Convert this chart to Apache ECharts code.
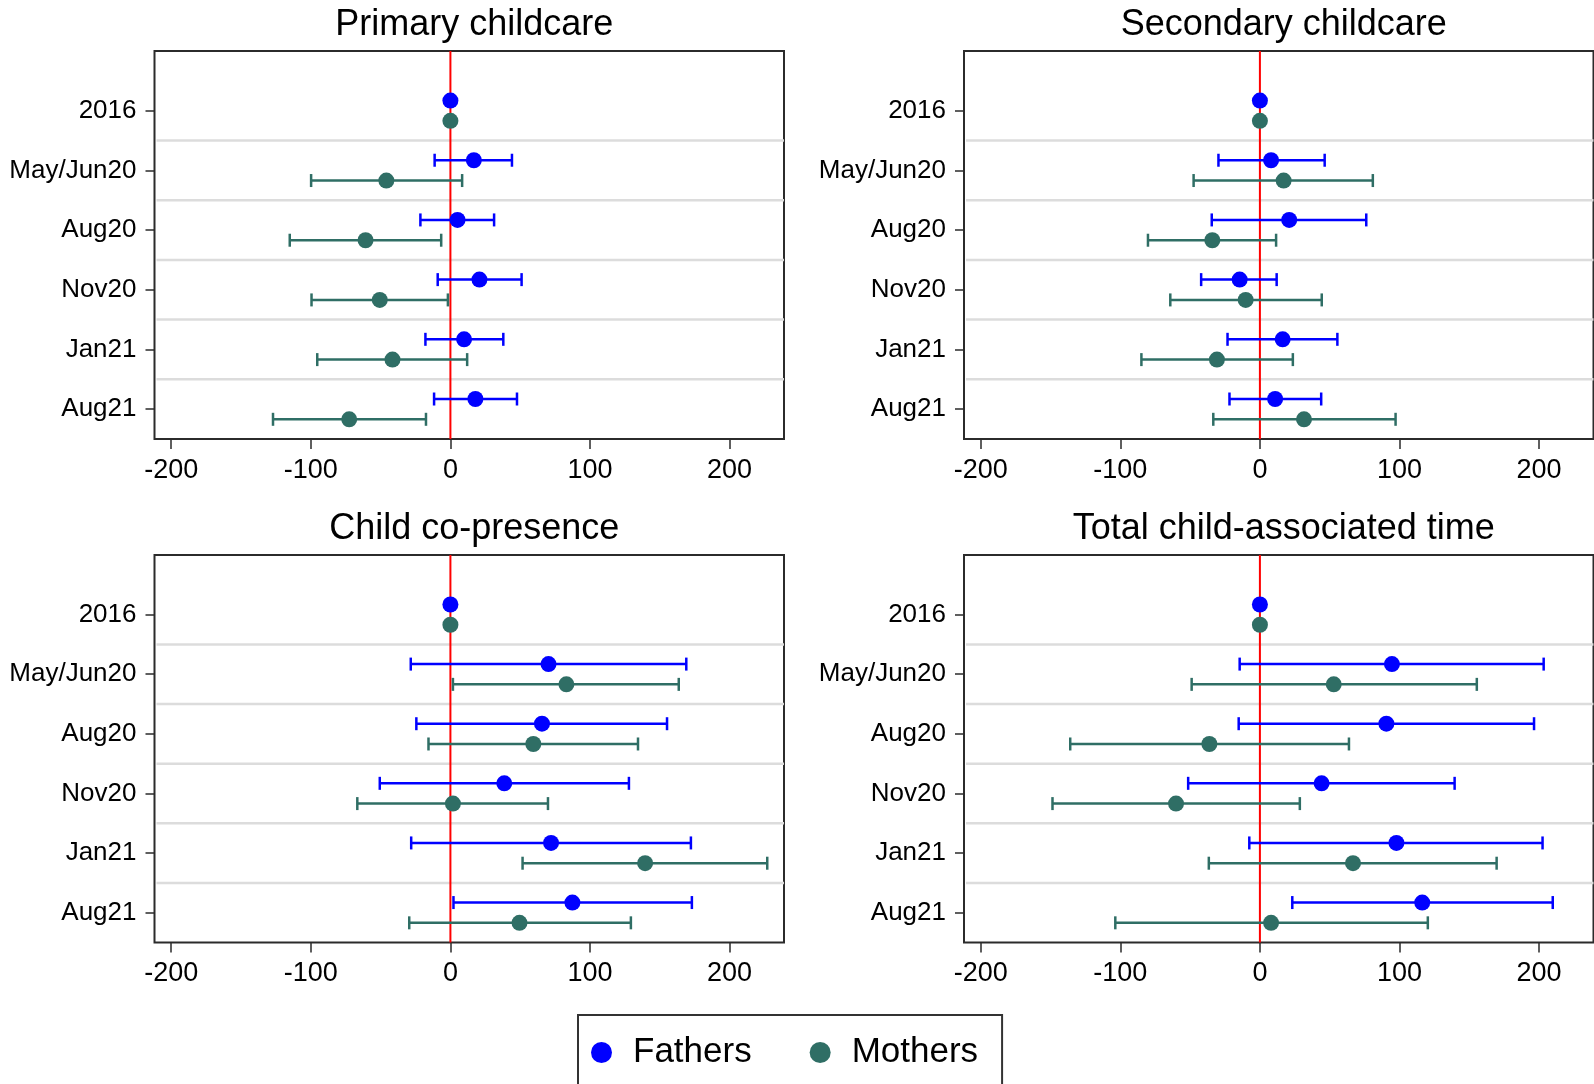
<!DOCTYPE html>
<html>
<head>
<meta charset="utf-8">
<title>Childcare time by wave</title>
<script src="https://cdn.jsdelivr.net/npm/echarts@6/dist/echarts.min.js"></script>
<style>
  html, body { margin: 0; padding: 0; background: #fff; }
  #main { width: 1594px; height: 1084px; }
</style>
</head>
<body>
<div id="main"></div>
<script>
// waves on the y axis, 2016 is the reference year
var categories = ['2016', 'May/Jun20', 'Aug20', 'Nov20', 'Jan21', 'Aug21'];
var xTicks = [-200, -100, 0, 100, 200];
var titles = ['Primary childcare', 'Secondary childcare', 'Child co-presence', 'Total child-associated time'];

// Primary childcare
var pcF   = [0, 16.8, 5.1, 20.8, 9.8, 17.9];
var pcFLo = [null, -11.3, -21.5, -9.1, -17.9, -11.7];
var pcFHi = [null, 44.1, 31.3, 51.0, 37.9, 47.7];
var pcM   = [0, -45.9, -60.8, -50.6, -41.5, -72.5];
var pcMLo = [null, -99.8, -115.1, -99.5, -95.4, -127.1];
var pcMHi = [null, 8.4, -6.6, -1.8, 12.0, -17.5];

// Secondary childcare
var scF   = [0, 8.0, 21.0, -14.5, 16.3, 10.9];
var scFLo = [null, -29.7, -34.5, -42.1, -23.2, -21.8];
var scFHi = [null, 46.4, 76.2, 12.0, 55.5, 43.9];
var scM   = [0, 17.0, -34.1, -10.2, -30.8, 31.6];
var scMLo = [null, -47.5, -80.2, -64.2, -84.9, -33.4];
var scMHi = [null, 80.9, 11.6, 44.3, 23.6, 97.2];

// Child co-presence
var cpF   = [0, 70.3, 65.6, 38.6, 72.1, 87.4];
var cpFLo = [null, -28.4, -24.4, -50.6, -28.1, 2.2];
var cpFHi = [null, 169.0, 155.2, 127.9, 172.3, 173.0];
var cpM   = [0, 83.1, 59.4, 1.8, 139.5, 49.5];
var cpMLo = [null, 1.8, -15.7, -66.7, 51.7, -29.5];
var cpMHi = [null, 163.6, 134.4, 69.9, 227.0, 129.3];

// Total child-associated time
var tcF   = [0, 94.6, 90.6, 44.2, 97.8, 116.3];
var tcFLo = [null, -14.5, -15.2, -51.4, -7.6, 23.2];
var tcFHi = [null, 203.3, 196.4, 139.5, 202.5, 209.8];
var tcM   = [0, 52.9, -36.2, -60.1, 66.7, 8.0];
var tcMLo = [null, -48.9, -135.9, -148.6, -36.6, -103.6];
var tcMHi = [null, 155.4, 63.8, 28.6, 169.6, 120.3];

var panels = [
  { f: pcF, fLo: pcFLo, fHi: pcFHi, m: pcM, mLo: pcMLo, mHi: pcMHi },
  { f: scF, fLo: scFLo, fHi: scFHi, m: scM, mLo: scMLo, mHi: scMHi },
  { f: cpF, fLo: cpFLo, fHi: cpFHi, m: cpM, mLo: cpMLo, mHi: cpMHi },
  { f: tcF, fLo: tcFLo, fHi: tcFHi, m: tcM, mLo: tcMLo, mHi: tcMHi }
];

var BLUE = '#0000ff';
var TEAL = '#2f6e65';
var FONT = '"Liberation Sans", Arial, Helvetica, sans-serif';
var OFF = 0.17; // fathers sit above the wave tick, mothers below

var gridPos = [
  { left: 154.5, top: 51, width: 629.5, height: 388 },
  { left: 964, top: 51, width: 629.5, height: 388 },
  { left: 154.5, top: 555, width: 629.5, height: 387.5 },
  { left: 964, top: 555, width: 629.5, height: 387.5 }
];
var titleTop = [2, 2, 506, 506];

function points(vals, off) {
  return vals.map(function (v, i) { return [v, i + 1 + off]; });
}
function bars(lo, hi, off) {
  var out = [];
  lo.forEach(function (v, i) {
    if (v !== null) out.push([v, hi[i], i + 1 + off]);
  });
  return out;
}
function barRenderer(color) {
  return function (params, api) {
    var y = api.value(2);
    var a = api.coord([api.value(0), y]);
    var b = api.coord([api.value(1), y]);
    var h = 6.5;
    var st = { stroke: color, lineWidth: 2.5 };
    return {
      type: 'group',
      children: [
        { type: 'line', shape: { x1: a[0], y1: a[1], x2: b[0], y2: b[1] }, style: st },
        { type: 'line', shape: { x1: a[0], y1: a[1] - h, x2: a[0], y2: a[1] + h }, style: st },
        { type: 'line', shape: { x1: b[0], y1: b[1] - h, x2: b[0], y2: b[1] + h }, style: st }
      ]
    };
  };
}

var rowBreaks = categories.slice(1).map(function (c, i) { return [i + 1.5]; });

var option = {
  backgroundColor: '#fff',
  animation: false,
  title: titles.map(function (t, i) {
    return {
      text: t,
      left: gridPos[i].left + gridPos[i].width / 2,
      top: titleTop[i],
      textAlign: 'center',
      textStyle: { fontFamily: FONT, fontSize: 36, fontWeight: 'normal', color: '#000' }
    };
  }),
  legend: {
    left: 578,
    top: 1015,
    orient: 'horizontal',
    data: [{ name: 'Fathers', icon: 'circle' }, { name: 'Mothers', icon: 'circle' }],
    itemWidth: 21,
    itemHeight: 21,
    itemGap: 58,
    padding: [20, 24, 16, 13],
    borderColor: '#333',
    borderWidth: 2,
    textStyle: { fontFamily: FONT, fontSize: 35, color: '#000', padding: [0, 0, 0, 16] }
  },
  grid: gridPos.map(function (g) {
    return {
      left: g.left, top: g.top, width: g.width, height: g.height,
      show: true, borderColor: '#2b2b2b', borderWidth: 2, backgroundColor: '#fff'
    };
  }),
  xAxis: gridPos.map(function (g, i) {
    return {
      type: 'value', gridIndex: i, min: -212, max: 239, position: 'bottom',
      axisLine: { show: false, onZero: false },
      splitLine: { show: false },
      axisTick: { show: true, inside: false, length: 10, customValues: xTicks, lineStyle: { color: '#2b2b2b', width: 1.5 } },
      axisLabel: { customValues: xTicks, margin: 18, fontFamily: FONT, fontSize: 27, color: '#000' }
    };
  }),
  yAxis: gridPos.map(function (g, i) {
    var idx = categories.map(function (c, k) { return k + 1; });
    return {
      type: 'value', gridIndex: i, min: 0, max: 6.5, inverse: true, position: 'left',
      axisLine: { show: false, onZero: false },
      splitLine: { show: false },
      axisTick: { show: true, inside: false, length: 9, customValues: idx, lineStyle: { color: '#2b2b2b', width: 1.5 } },
      axisLabel: {
        customValues: idx, margin: 18, fontFamily: FONT, fontSize: 26, color: '#000',
        padding: [4, 0, 0, 0],
        formatter: function (v) { return categories[Math.round(v) - 1]; }
      }
    };
  }),
  series: []
};

panels.forEach(function (p, i) {
  // light separators between waves
  option.series.push({
    type: 'custom', xAxisIndex: i, yAxisIndex: i, silent: true, z: 1,
    data: rowBreaks, encode: { y: 0 },
    renderItem: function (params, api) {
      var y = api.coord([0, api.value(0)])[1];
      var cs = params.coordSys;
      return { type: 'line', shape: { x1: cs.x + 2, y1: y, x2: cs.x + cs.width, y2: y },
        style: { stroke: '#dcdcdc', lineWidth: 2.5 } };
    }
  });
  // red reference line at zero
  option.series.push({
    type: 'custom', xAxisIndex: i, yAxisIndex: i, silent: true, z: 2,
    data: [[0]], encode: { x: 0 },
    renderItem: function (params, api) {
      var top = api.coord([api.value(0), 0]);
      var bot = api.coord([api.value(0), 6.5]);
      return { type: 'line', shape: { x1: top[0], y1: top[1], x2: bot[0], y2: bot[1] },
        style: { stroke: '#ff0000', lineWidth: 2 } };
    }
  });
  option.series.push({
    name: 'Fathers CI', type: 'custom', xAxisIndex: i, yAxisIndex: i, z: 3,
    data: bars(p.fLo, p.fHi, -OFF), encode: { x: [0, 1], y: 2 },
    renderItem: barRenderer(BLUE)
  });
  option.series.push({
    name: 'Mothers CI', type: 'custom', xAxisIndex: i, yAxisIndex: i, z: 3,
    data: bars(p.mLo, p.mHi, OFF), encode: { x: [0, 1], y: 2 },
    renderItem: barRenderer(TEAL)
  });
  option.series.push({
    name: 'Fathers', type: 'scatter', xAxisIndex: i, yAxisIndex: i, z: 4,
    symbol: 'circle', symbolSize: 16, itemStyle: { color: BLUE, opacity: 1 },
    data: points(p.f, -OFF)
  });
  option.series.push({
    name: 'Mothers', type: 'scatter', xAxisIndex: i, yAxisIndex: i, z: 4,
    symbol: 'circle', symbolSize: 16, itemStyle: { color: TEAL, opacity: 1 },
    data: points(p.m, OFF)
  });
});

var myChart = echarts.init(document.getElementById('main'));
myChart.setOption(option);
</script>
</body>
</html>
